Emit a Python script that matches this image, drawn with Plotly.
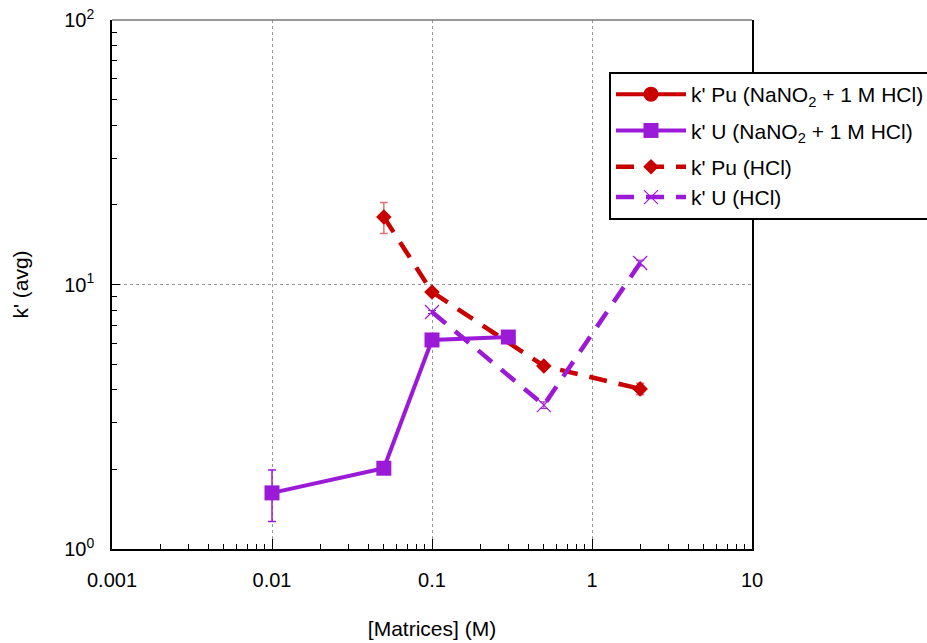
import plotly.graph_objects as go

# ---- data ----
pu_nano2_x = [None]
pu_nano2_y = [None]

u_nano2_x = [0.01, 0.05, 0.1, 0.3]
u_nano2_y = [1.63, 2.02, 6.17, 6.33]
u_nano2_err = [0.36, 0.0, 0.0, 0.0]

pu_hcl_x = [0.05, 0.1, 0.5, 2]
pu_hcl_y = [18.0, 9.37, 4.92, 4.03]
pu_hcl_err = [2.4, 0.1, 0.1, 0.2]

u_hcl_x = [0.1, 0.5, 2]
u_hcl_y = [7.87, 3.50, 12.06]
u_hcl_err = [0.1, 0.1, 0.3]

x_tickvals = [0.001, 0.01, 0.1, 1, 10]
x_ticktext = ["0.001", "0.01", "0.1", "1", "10"]
y_tickvals = [1, 10, 100]
y_ticktext = ["10<sup>0</sup>", "10<sup>1</sup>", "10<sup>2</sup>"]

RED = "rgb(200,0,0)"
PURPLE = "rgb(155,26,215)"
FONT = "Liberation Sans, Arial, sans-serif"

fig = go.Figure()

fig.add_trace(go.Scatter(
    x=pu_nano2_x, y=pu_nano2_y, mode="lines+markers",
    name="k' Pu (NaNO<sub>2</sub> + 1 M HCl)",
    line=dict(color=RED, width=4),
    marker=dict(symbol="circle", size=15, color=RED),
    legendrank=1, legendgroup="g1",
))

fig.add_trace(go.Scatter(
    x=pu_hcl_x, y=pu_hcl_y, mode="lines+markers",
    name="k' Pu (HCl)",
    line=dict(color=RED, width=4.5, dash="18px,12px"),
    marker=dict(symbol="diamond", size=12, color=RED),
    error_y=dict(type="data", array=pu_hcl_err, color="rgba(200,0,0,0.55)",
                 thickness=1.5, width=4),
    legendrank=3, legendgroup="g3",
))

fig.add_trace(go.Scatter(
    x=u_hcl_x, y=u_hcl_y, mode="lines+markers",
    name="k' U (HCl)",
    line=dict(color=PURPLE, width=4.5, dash="18px,12px"),
    marker=dict(symbol="x-thin-open", size=14, color=PURPLE,
                line=dict(color=PURPLE, width=1.2)),
    error_y=dict(type="data", array=u_hcl_err, color=PURPLE,
                 thickness=1, width=4),
    legendrank=4, legendgroup="g3",
))

fig.add_trace(go.Scatter(
    x=u_nano2_x, y=u_nano2_y, mode="lines+markers",
    name="k' U (NaNO<sub>2</sub> + 1 M HCl)",
    line=dict(color=PURPLE, width=4),
    marker=dict(symbol="square", size=15, color=PURPLE),
    error_y=dict(type="data", array=u_nano2_err, color=PURPLE,
                 thickness=1.5, width=4),
    legendrank=2, legendgroup="g2",
))

fig.update_layout(
    width=927, height=643,
    margin=dict(l=112, r=175, t=20, b=94, autoexpand=False),
    paper_bgcolor="white", plot_bgcolor="white",
    font=dict(family=FONT, size=20, color="black"),
    showlegend=True,
    legend=dict(
        x=(609 - 112) / 640, y=(549 - 72) / 529,
        xanchor="left", yanchor="top",
        bgcolor="white", bordercolor="black", borderwidth=2,
        font=dict(family=FONT, size=21),
        itemwidth=70,
        traceorder="grouped",
        tracegroupgap=6,
        groupclick="toggleitem",
    ),
    xaxis=dict(
        type="log", range=[-3, 1],
        tickmode="array", tickvals=x_tickvals, ticktext=x_ticktext,
        ticks="inside", ticklen=10, tickwidth=1, tickcolor="black",
        ticklabelstandoff=12,
        showline=True, linecolor="black", linewidth=1.5, mirror=False,
        showgrid=True, gridcolor="#999999", griddash="dot", gridwidth=1,
        zeroline=False,
        minor=dict(ticks="inside", ticklen=5, tickcolor="black",
                   tickvals=[m * d for d in [0.001, 0.01, 0.1, 1] for m in range(2, 10)],
                   showgrid=False),
        title=dict(text="[Matrices] (M)", font=dict(size=21), standoff=32),
        tickfont=dict(size=20),
    ),
    yaxis=dict(
        type="log", range=[0, 2],
        tickmode="array", tickvals=y_tickvals, ticktext=y_ticktext,
        ticks="inside", ticklen=8, tickwidth=1, tickcolor="black",
        ticklabelstandoff=12,
        showline=True, linecolor="black", linewidth=1.5, mirror=True,
        showgrid=True, gridcolor="#999999", griddash="dot", gridwidth=1,
        zeroline=False,
        minor=dict(ticks="inside", ticklen=5, tickcolor="black",
                   tickvals=[m * d for d in [1, 10] for m in range(2, 10)],
                   showgrid=False),
        title=dict(text="k' (avg)", font=dict(size=21), standoff=30),
        tickfont=dict(size=20),
    ),
    shapes=[dict(type="line", xref="paper", yref="paper", x0=0, x1=1, y0=1, y1=1,
                 line=dict(color="#777777", width=1.5))],
)

fig.write_html("out.html", config={"displayModeBar": False},
               post_script="document.body.style.margin='0';document.body.style.padding='0';")
